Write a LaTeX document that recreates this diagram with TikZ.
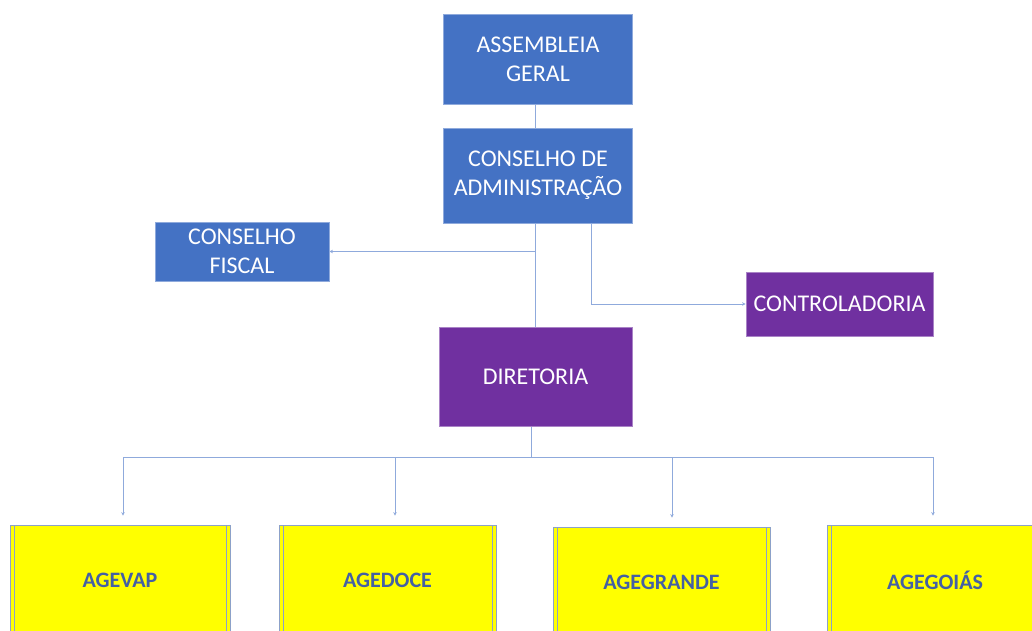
\documentclass[tikz,border=0pt]{standalone}
\usepackage{fontspec}
\setmainfont{Carlito}
\usetikzlibrary{arrows.meta,calc,positioning}
\definecolor{azul}{HTML}{4472C4}
\definecolor{roxo}{HTML}{7030A0}
\definecolor{amarelo}{HTML}{FFFF00}
\definecolor{linha}{HTML}{8FAADC}
\definecolor{texto}{HTML}{4460A4}
\begin{document}
\begin{tikzpicture}[x=1pt,y=-1pt,
	caixa/.style={draw=linha,line width=0.8pt,fill=azul,text=white,align=center,
		font=\fontsize{24}{29}\selectfont,inner sep=0pt},
	roxa/.style={caixa,fill=roxo,draw=roxo!60!white},
	agencia/.style={draw=linha!80!gray,line width=0.8pt,fill=amarelo,text=texto,
		font=\fontsize{22}{26}\selectfont\bfseries,minimum width=218pt,minimum height=110pt,
		path picture={\draw[linha!80!gray,line width=0.8pt]
			([xshift=4pt]path picture bounding box.north west) -- ([xshift=4pt]path picture bounding box.south west)
			([xshift=-4pt]path picture bounding box.north east) -- ([xshift=-4pt]path picture bounding box.south east);}},
	ligacao/.style={draw=linha,line width=0.8pt},
	seta/.style={ligacao,-{Stealth[length=3.5pt,width=3.5pt]}}]
	\clip (0,0) rectangle (1032,630);
	\fill[white] (0,0) rectangle (1032,630);

	\node[caixa,minimum width=189pt,minimum height=90pt]	(ag)	at (538,59)		{ASSEMBLEIA\\GERAL};
	\node[caixa,minimum width=189pt,minimum height=95pt]	(cadm)	at (538,175.5)	{CONSELHO DE\\ADMINISTRAÇÃO};
	\node[caixa,minimum width=174pt,minimum height=59pt]	(fis)	at (242,251.5)	{CONSELHO\\FISCAL};
	\node[roxa,minimum width=187pt,minimum height=64pt]	(ctl)	at (839.5,304)	{CONTROLADORIA};
	\node[roxa,minimum width=193pt,minimum height=99pt]	(dir)	at (535.5,377)	{DIRETORIA};

	\node[agencia,minimum width=220pt]	(vap)	at (120,580)	{AGEVAP};
	\node[agencia,minimum width=217pt]	(doce)	at (387.5,580)	{AGEDOCE};
	\node[agencia,minimum width=217pt]	(gra)	at (661.5,582)	{AGEGRANDE};
	\node[agencia,minimum width=216pt]	(goi)	at (935,580)	{AGEGOIÁS};

	\draw[ligacao]	(dir.north |- ag.south) -- (dir.north |- cadm.north);
	\draw[ligacao]	(dir.north |- cadm.south) -- (dir.north);
	\draw[seta]		(dir.north |- fis.east) -- (fis.east);
	\draw[seta]		([xshift=53pt]cadm.south) |- (ctl.west);

	\coordinate (d1) at (123,457);
	\coordinate (d2) at (395,457);
	\coordinate (d3) at (672,457);
	\coordinate (d4) at (933,457);
	\draw[ligacao]	([xshift=-4pt]dir.south) -- ([xshift=-4pt]dir.south |- d1);
	\draw[ligacao]	(d1) -- (d4);
	\foreach \d/\b in {d1/vap,d2/doce,d3/gra,d4/goi}
		\draw[seta,shorten >=9pt] (\d) -- (\d |- \b.north);
\end{tikzpicture}
\end{document}
